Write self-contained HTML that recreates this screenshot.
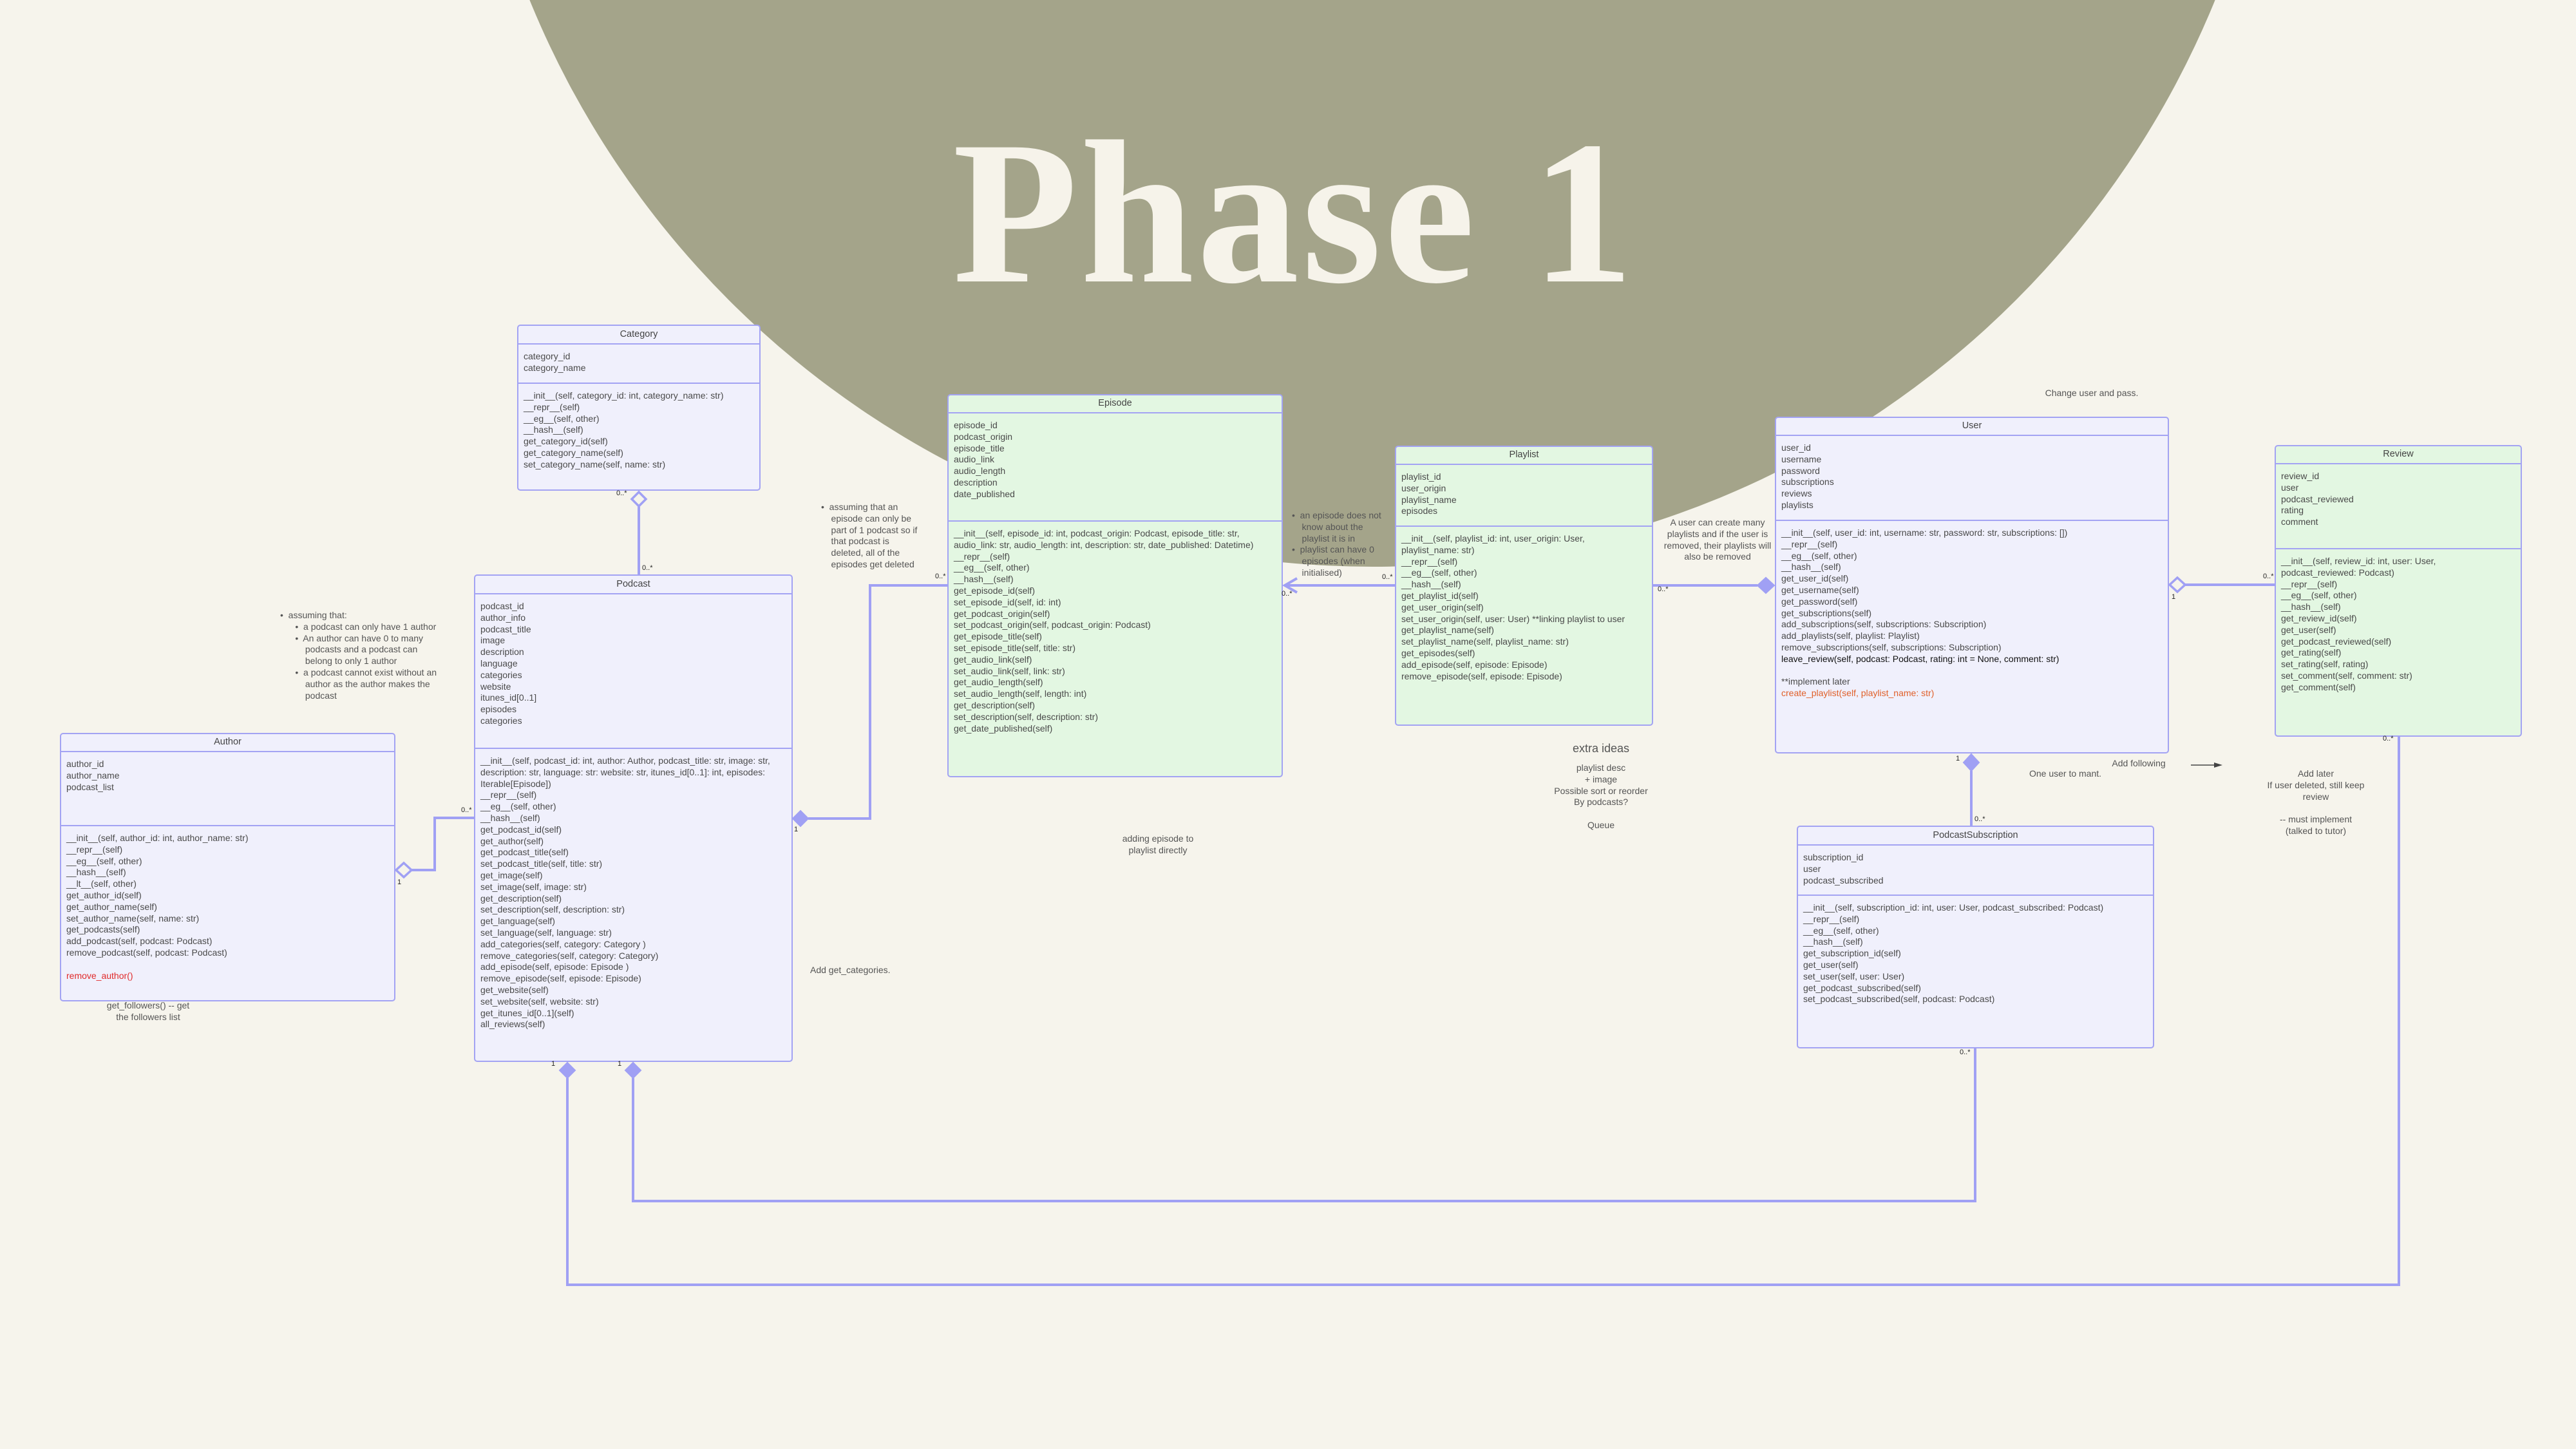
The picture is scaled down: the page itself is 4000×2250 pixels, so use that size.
<!DOCTYPE html>
<html><head><meta charset="utf-8"><style>
*{margin:0;padding:0;box-sizing:border-box}
body{width:4000px;height:2250px;background:#f6f4ec;position:relative;overflow:hidden;font-family:"Liberation Sans",sans-serif;color:#4a4a4a}
.circle{position:absolute;left:718px;top:-1946px;width:2826px;height:2826px;border-radius:50%;background:#a4a48a}
.title{position:absolute;left:1440px;top:170px;width:1140px;text-align:center;font-family:"Liberation Serif",serif;font-weight:bold;font-size:318px;line-height:320px;color:#f6f3ea;letter-spacing:4px}
.box{position:absolute;border:2.5px solid #a3a3f3;border-radius:5px;background:#f0f0fc;font-size:14px;line-height:17.8px;overflow:hidden}
.box.g{background:#e3f7e2}
.hd{text-align:center;border-bottom:2.5px solid #a3a3f3;font-size:14.5px;color:#444}
.at{border-bottom:2.5px solid #a3a3f3;padding:10px 0 0 8px;white-space:pre}
.me{padding:10px 0 0 8px;white-space:pre}
.t{position:absolute;font-size:14px;line-height:17.8px;color:#555;white-space:pre}
.c{text-align:center}
.lb{position:absolute;font-size:11px;color:#222}
svg{position:absolute;left:0;top:0}
</style></head><body>
<div class="circle"></div>
<div class="title">Phase 1</div>

<svg width="4000" height="2250">
<g stroke="#a0a0f4" stroke-width="4" fill="none">
<polyline points="992,787 992,892"/>
<polyline points="639,1351 675,1351 675,1270 736,1270"/>
<polyline points="1255,1271 1351,1271 1351,909 1471,909"/>
<polyline points="2166,909 1994,909"/>
<polyline points="2014,898 1995,909 2014,920"/>
<polyline points="2567,909 2729,909"/>
<polyline points="3393,908 3532,908"/>
<polyline points="3061,1197 3061,1282"/>
<polyline points="983,1674 983,1865 3067,1865 3067,1628"/>
<polyline points="881,1674 881,1995 3725,1995 3725,1144"/>
</g>
<g stroke="#a0a0f4" stroke-width="3.5" fill="#f6f4ec">
<polygon points="992,764 1003,775 992,786 981,775"/>
<polygon points="627,1340 639,1351 627,1362 615,1351"/>
<polygon points="3381,897 3393,908 3381,919 3369,908"/>
</g>
<g fill="#a0a0f4" stroke="#a0a0f4" stroke-width="2">
<polygon points="1243,1259 1255,1271 1243,1283 1231,1271"/>
<polygon points="2742,897 2755,909 2742,921 2729,909"/>
<polygon points="3061,1171 3073,1184 3061,1197 3049,1184"/>
<polygon points="881,1650 893,1662 881,1674 869,1662"/>
<polygon points="983,1650 995,1662 983,1674 971,1662"/>
</g>
<g stroke="#444" stroke-width="1.5"><line x1="3402" y1="1188" x2="3440" y2="1188"/></g>
<polygon points="3438,1184 3451,1188 3438,1192" fill="#444"/>
</svg>

<!-- Category -->
<div class="box" style="left:803px;top:504px;width:378px;height:258px">
<div class="hd" style="height:29px;line-height:26px">Category</div>
<div class="at" style="height:61px">category_id
category_name</div>
<div class="me">__init__(self, category_id: int, category_name: str)
__repr__(self)
__eg__(self, other)
__hash__(self)
get_category_id(self)
get_category_name(self)
set_category_name(self, name: str)</div>
</div>

<!-- Podcast -->
<div class="box" style="left:736px;top:892px;width:495px;height:757px">
<div class="hd" style="height:29px;line-height:26px">Podcast</div>
<div class="at" style="height:240px">podcast_id
author_info
podcast_title
image
description
language
categories
website
itunes_id[0..1]
episodes
categories</div>
<div class="me">__init__(self, podcast_id: int, author: Author, podcast_title: str, image: str,
description: str, language: str: website: str, itunes_id[0..1]: int, episodes:
Iterable[Episode])
__repr__(self)
__eg__(self, other)
__hash__(self)
get_podcast_id(self)
get_author(self)
get_podcast_title(self)
set_podcast_title(self, title: str)
get_image(self)
set_image(self, image: str)
get_description(self)
set_description(self, description: str)
get_language(self)
set_language(self, language: str)
add_categories(self, category: Category )
remove_categories(self, category: Category)
add_episode(self, episode: Episode )
remove_episode(self, episode: Episode)
get_website(self)
set_website(self, website: str)
get_itunes_id[0..1](self)
all_reviews(self)</div>
</div>

<!-- Author -->
<div class="box" style="left:93px;top:1138px;width:521px;height:417px">
<div class="hd" style="height:28px;line-height:25px">Author</div>
<div class="at" style="height:115px">author_id
author_name
podcast_list</div>
<div class="me">__init__(self, author_id: int, author_name: str)
__repr__(self)
__eg__(self, other)
__hash__(self)
__lt__(self, other)
get_author_id(self)
get_author_name(self)
set_author_name(self, name: str)
get_podcasts(self)
add_podcast(self, podcast: Podcast)
remove_podcast(self, podcast: Podcast)

<span style="color:#e02a2a">remove_author()</span></div>
</div>

<!-- Episode -->
<div class="box g" style="left:1471px;top:612px;width:521px;height:595px">
<div class="hd" style="height:28px;line-height:25px">Episode</div>
<div class="at" style="height:168px">episode_id
podcast_origin
episode_title
audio_link
audio_length
description
date_published</div>
<div class="me">__init__(self, episode_id: int, podcast_origin: Podcast, episode_title: str,
audio_link: str, audio_length: int, description: str, date_published: Datetime)
__repr__(self)
__eg__(self, other)
__hash__(self)
get_episode_id(self)
set_episode_id(self, id: int)
get_podcast_origin(self)
set_podcast_origin(self, podcast_origin: Podcast)
get_episode_title(self)
set_episode_title(self, title: str)
get_audio_link(self)
set_audio_link(self, link: str)
get_audio_length(self)
set_audio_length(self, length: int)
get_description(self)
set_description(self, description: str)
get_date_published(self)</div>
</div>

<!-- Playlist -->
<div class="box g" style="left:2166px;top:692px;width:401px;height:435px">
<div class="hd" style="height:28px;line-height:25px">Playlist</div>
<div class="at" style="height:96px">playlist_id
user_origin
playlist_name
episodes</div>
<div class="me">__init__(self, playlist_id: int, user_origin: User,
playlist_name: str)
__repr__(self)
__eg__(self, other)
__hash__(self)
get_playlist_id(self)
get_user_origin(self)
set_user_origin(self, user: User) **linking playlist to user
get_playlist_name(self)
set_playlist_name(self, playlist_name: str)
get_episodes(self)
add_episode(self, episode: Episode)
remove_episode(self, episode: Episode)</div>
</div>

<!-- User -->
<div class="box" style="left:2756px;top:647px;width:612px;height:523px">
<div class="hd" style="height:28px;line-height:25px">User</div>
<div class="at" style="height:132px">user_id
username
password
subscriptions
reviews
playlists</div>
<div class="me">__init__(self, user_id: int, username: str, password: str, subscriptions: [])
__repr__(self)
__eg__(self, other)
__hash__(self)
get_user_id(self)
get_username(self)
get_password(self)
get_subscriptions(self)
add_subscriptions(self, subscriptions: Subscription)
add_playlists(self, playlist: Playlist)
remove_subscriptions(self, subscriptions: Subscription)
<span style="color:#111">leave_review(self, podcast: Podcast, rating: int = None, comment: str)</span>

**implement later
<span style="color:#e0602a">create_playlist(self, playlist_name: str)</span></div>
</div>

<!-- Review -->
<div class="box g" style="left:3532px;top:691px;width:384px;height:453px">
<div class="hd" style="height:28px;line-height:25px">Review</div>
<div class="at" style="height:132px">review_id
user
podcast_reviewed
rating
comment</div>
<div class="me">__init__(self, review_id: int, user: User,
podcast_reviewed: Podcast)
__repr__(self)
__eg__(self, other)
__hash__(self)
get_review_id(self)
get_user(self)
get_podcast_reviewed(self)
get_rating(self)
set_rating(self, rating)
set_comment(self, comment: str)
get_comment(self)</div>
</div>

<!-- PodcastSubscription -->
<div class="box" style="left:2790px;top:1282px;width:555px;height:346px">
<div class="hd" style="height:29px;line-height:26px">PodcastSubscription</div>
<div class="at" style="height:78px">subscription_id
user
podcast_subscribed</div>
<div class="me">__init__(self, subscription_id: int, user: User, podcast_subscribed: Podcast)
__repr__(self)
__eg__(self, other)
__hash__(self)
get_subscription_id(self)
get_user(self)
set_user(self, user: User)
get_podcast_subscribed(self)
set_podcast_subscribed(self, podcast: Podcast)</div>
</div>

<!-- notes -->
<div class="t" style="left:435px;top:947px">•  assuming that:
      •  a podcast can only have 1 author
      •  An author can have 0 to many
          podcasts and a podcast can
          belong to only 1 author
      •  a podcast cannot exist without an
          author as the author makes the
          podcast</div>
<div class="t c" style="left:130px;top:1553px;width:200px">get_followers() -- get
the followers list</div>
<div class="t" style="left:1275px;top:779px">•  assuming that an
    episode can only be
    part of 1 podcast so if
    that podcast is
    deleted, all of the
    episodes get deleted</div>
<div class="t" style="left:2006px;top:792px">•  an episode does not
    know about the
    playlist it is in
•  playlist can have 0
    episodes (when
    initialised)</div>
<div class="t c" style="left:2567px;top:803px;width:200px">A user can create many
playlists and if the user is
removed, their playlists will
also be removed</div>
<div class="t c" style="left:2386px;top:1151px;width:200px;font-size:18px;line-height:22px">extra ideas</div>
<div class="t c" style="left:2386px;top:1184px;width:200px">playlist desc
+ image
Possible sort or reorder
By podcasts?

Queue</div>
<div class="t c" style="left:3148px;top:602px;width:200px">Change user and pass.</div>
<div class="t c" style="left:3221px;top:1177px;width:200px">Add following</div>
<div class="t c" style="left:3107px;top:1193px;width:200px">One user to mant.</div>
<div class="t c" style="left:3476px;top:1193px;width:240px">Add later
If user deleted, still keep
review

-- must implement
(talked to tutor)</div>
<div class="t c" style="left:1698px;top:1294px;width:200px">adding episode to
playlist directly</div>
<div class="t" style="left:1258px;top:1498px">Add get_categories.</div>

<!-- multiplicity labels -->
<div class="lb" style="left:957px;top:760px">0..*</div>
<div class="lb" style="left:997px;top:876px">0..*</div>
<div class="lb" style="left:716px;top:1252px">0..*</div>
<div class="lb" style="left:617px;top:1364px">1</div>
<div class="lb" style="left:1233px;top:1282px">1</div>
<div class="lb" style="left:1452px;top:889px">0..*</div>
<div class="lb" style="left:2146px;top:890px">0..*</div>
<div class="lb" style="left:1990px;top:916px">0..*</div>
<div class="lb" style="left:2574px;top:909px">0..*</div>
<div class="lb" style="left:3372px;top:921px">1</div>
<div class="lb" style="left:3514px;top:889px">0..*</div>
<div class="lb" style="left:3037px;top:1172px">1</div>
<div class="lb" style="left:3066px;top:1266px">0..*</div>
<div class="lb" style="left:3043px;top:1628px">0..*</div>
<div class="lb" style="left:3700px;top:1141px">0..*</div>
<div class="lb" style="left:856px;top:1646px">1</div>
<div class="lb" style="left:959px;top:1646px">1</div>
</body></html>
